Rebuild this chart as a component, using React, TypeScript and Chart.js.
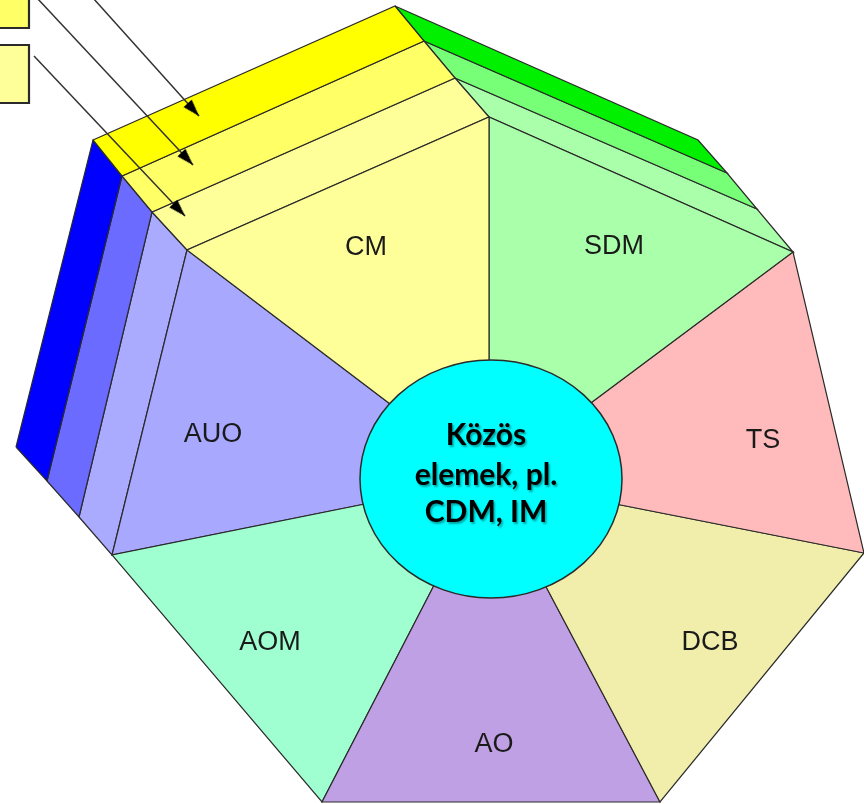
import React, { useEffect, useRef } from 'react';
import { Chart, registerables } from 'chart.js';

Chart.register(...registerables);

// Segments of the front face, clockwise from the top-left
const segmentNames = ['CM', 'SDM', 'TS', 'DCB', 'AO', 'AOM', 'AUO'];
const segmentColors = ['#ffff99', '#aaffaa', '#ffbbbb', '#f0eeaa', '#c0a0e4', '#a0ffd0', '#a8a8ff'];

// Front-face rim corners (segment i spans corner i .. corner i+1)
const rimX = [187, 489, 793, 864, 660, 322, 112];
const rimY = [250, 117, 252, 553, 802, 802, 555];
// Hub (where all segment borders meet)
const hubX = 489;
const hubY = 479;

// Label baselines for each segment
const labelX = [366, 614, 763, 710, 494, 270, 213];
const labelY = [255, 254, 448, 650, 752, 650, 442];

// Extruded layers: each line is [start, end], outermost first, front edge last
const yellowLineX = [[93, 395], [122, 424], [152, 455], [187, 489]];
const yellowLineY = [[140, 6], [176, 41], [212, 78], [250, 117]];
const yellowShades = ['#ffff00', '#ffff66', '#ffff99'];

const greenLineX = [[395, 698], [424, 727], [455, 757], [489, 793]];
const greenLineY = [[6, 140], [41, 173], [78, 209], [117, 252]];
const greenShades = ['#00f000', '#77ff77', '#aaffaa'];

const blueLineX = [[16, 93], [47, 122], [79, 152], [112, 187]];
const blueLineY = [[447, 140], [481, 176], [517, 212], [555, 250]];
const blueShades = ['#0000ff', '#6b6bff', '#aaaaff'];

// Central ellipse
const coreX = 491;
const coreY = 479;
const coreRadiusX = 131;
const coreRadiusY = 119;
const coreLines = ['Közös', 'elemek, pl.', 'CDM, IM'];
const coreTextX = 486;
const coreTextY = [445, 485, 522];

// Arrows (start -> tip)
const arrowStartX = [93, 37, 34];
const arrowStartY = [-2, -2, 56];
const arrowTipX = [199, 193, 185];
const arrowTipY = [116, 165, 216];

// Boxes at the top-left corner (partly off-picture)
const boxX = [[-10, 29, 29, -10], [-10, 29, 29, -10]];
const boxY = [[-10, -10, 28, 28], [45, 45, 103, 103]];
const boxColors = ['#ffff66', '#ffff99'];

const outline = '#2a2a2a';

export default function App() {
  const ref = useRef<HTMLCanvasElement>(null);

  useEffect(() => {
    document.body.style.margin = '0';
    const canvas = ref.current;
    if (!canvas) return;

    const poly = (xs: number[], ys: number[]) => {
      const d = xs.map((x, i) => ({ x, y: ys[i] }));
      d.push(d[0]);
      return d;
    };
    const polyDs = (label: string, xs: number[], ys: number[], color: string, bw = 1.2) => ({
      type: 'line' as const,
      label,
      data: poly(xs, ys),
      showLine: true,
      fill: 'shape',
      backgroundColor: color,
      borderColor: outline,
      borderWidth: bw,
      borderJoinStyle: 'miter' as const,
      pointRadius: 0,
      tension: 0,
      order: 10,
    });

    const datasets: any[] = [];
    segmentNames.forEach((name, i) => {
      const j = (i + 1) % rimX.length;
      datasets.push(polyDs(name, [hubX, rimX[i], rimX[j]], [hubY, rimY[i], rimY[j]], segmentColors[i]));
    });
    const addBands = (lx: number[][], ly: number[][], shades: string[]) => {
      for (let k = 0; k < shades.length; k++) {
        datasets.push(
          polyDs(
            'band',
            [lx[k][0], lx[k][1], lx[k + 1][1], lx[k + 1][0]],
            [ly[k][0], ly[k][1], ly[k + 1][1], ly[k + 1][0]],
            shades[k]
          )
        );
      }
    };
    addBands(yellowLineX, yellowLineY, yellowShades);
    addBands(greenLineX, greenLineY, greenShades);
    addBands(blueLineX, blueLineY, blueShades);
    boxX.forEach((bx, i) => datasets.push(polyDs('box', bx, boxY[i], boxColors[i], 2.2)));

    // ellipse point style
    const ell = document.createElement('canvas');
    ell.width = coreRadiusX * 2 + 4;
    ell.height = coreRadiusY * 2 + 4;
    const ec = ell.getContext('2d')!;
    ec.beginPath();
    ec.ellipse(ell.width / 2, ell.height / 2, coreRadiusX, coreRadiusY, 0, 0, Math.PI * 2);
    ec.fillStyle = '#00ffff';
    ec.fill();
    ec.lineWidth = 1.5;
    ec.strokeStyle = outline;
    ec.stroke();
    datasets.push({
      type: 'line',
      label: 'core',
      data: [{ x: coreX, y: coreY }],
      showLine: false,
      pointStyle: ell,
      pointRadius: 5,
      order: 5,
    });

    // arrow head point style (tip at centre, pointing up)
    const head = document.createElement('canvas');
    head.width = 36;
    head.height = 36;
    const hc = head.getContext('2d')!;
    hc.beginPath();
    hc.moveTo(18, 18);
    hc.lineTo(12.5, 35);
    hc.lineTo(23.5, 35);
    hc.closePath();
    hc.fillStyle = '#000';
    hc.fill();

    arrowStartX.forEach((sx, i) => {
      const dx = arrowTipX[i] - sx;
      const dy = arrowTipY[i] - arrowStartY[i];
      const rot = (Math.atan2(dx, -dy) * 180) / Math.PI;
      datasets.push({
        type: 'line',
        label: 'arrow',
        data: [
          { x: sx, y: arrowStartY[i] },
          { x: arrowTipX[i], y: arrowTipY[i] },
        ],
        showLine: true,
        fill: false,
        borderColor: '#333',
        borderWidth: 1.5,
        pointStyle: head,
        pointRadius: (c: any) => (c.dataIndex === 1 ? 4 : 0),
        pointRotation: rot,
        order: 1,
      });
    });

    const textPlugin = {
      id: 'diagramText',
      afterDatasetsDraw(chart: any) {
        const { ctx } = chart;
        const xs = chart.scales.x;
        const ys = chart.scales.y;
        ctx.save();
        ctx.textAlign = 'center';
        ctx.textBaseline = 'alphabetic';
        ctx.fillStyle = '#1a1a1a';
        ctx.font = '27px "Liberation Sans", Arial, sans-serif';
        segmentNames.forEach((n, i) => {
          ctx.fillText(n, xs.getPixelForValue(labelX[i]), ys.getPixelForValue(labelY[i]));
        });
        ctx.font = 'bold 30px Lato, "Open Sans", sans-serif';
        ctx.fillStyle = '#000';
        ctx.shadowColor = 'rgba(0,0,0,0.35)';
        ctx.shadowOffsetX = 1.5;
        ctx.shadowOffsetY = 1.5;
        ctx.shadowBlur = 2;
        coreLines.forEach((t, i) => {
          ctx.fillText(t, xs.getPixelForValue(coreTextX), ys.getPixelForValue(coreTextY[i]));
        });
        ctx.restore();
      },
    };

    const chart = new Chart(canvas, {
      type: 'line',
      data: { datasets },
      options: {
        responsive: false,
        animation: false,
        devicePixelRatio: 1,
        events: [],
        layout: { padding: 0, autoPadding: false },
        plugins: {
          legend: { display: false },
          tooltip: { enabled: false },
        },
        scales: {
          x: { type: 'linear', min: 0, max: 864, display: false },
          y: { type: 'linear', min: 0, max: 804, reverse: true, display: false },
        },
      } as any,
      plugins: [textPlugin],
    });
    return () => chart.destroy();
  }, []);

  return (
    <div style={{ position: 'fixed', left: 0, top: 0, width: 864, height: 804, background: '#fff' }}>
      <canvas ref={ref} width={864} height={804} style={{ width: 864, height: 804, display: 'block' }} />
    </div>
  );
}
